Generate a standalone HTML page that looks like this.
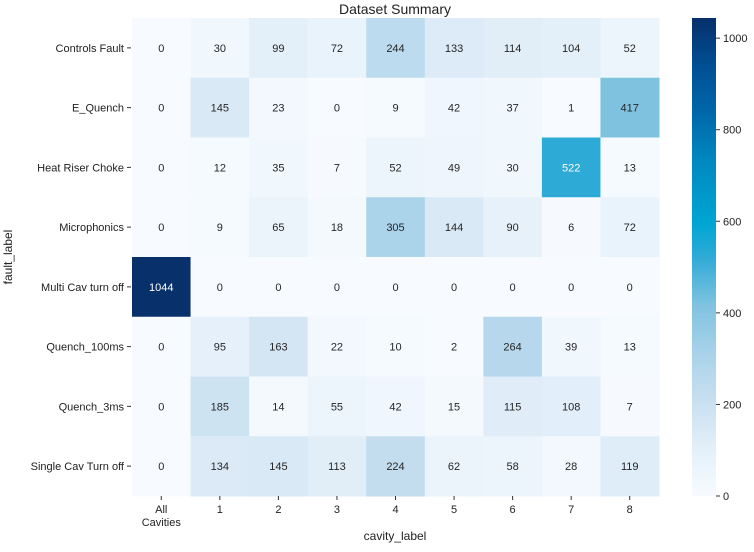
<!DOCTYPE html>
<html><head><meta charset="utf-8"><style>
body{margin:0;background:#fff;font-family:"Liberation Sans","DejaVu Sans",sans-serif;}
</style></head><body>
<svg id="chart" width="754" height="547" xmlns="http://www.w3.org/2000/svg">
<defs><linearGradient id="cbg" x1="0" y1="1" x2="0" y2="0"></linearGradient></defs>
<text x="395" y="14" text-anchor="middle" font-size="14" fill="#222">Dataset Summary</text>
<g id="cells"></g><g id="ylab"></g><g id="xlab"></g><g id="cbar"></g>
<text x="395" y="540" text-anchor="middle" font-size="12" fill="#222">cavity_label</text>
<text transform="translate(12,257) rotate(-90)" text-anchor="middle" font-size="12" fill="#222">fault_label</text>
</svg>
<script>
const rows=["Controls Fault","E_Quench","Heat Riser Choke","Microphonics","Multi Cav turn off","Quench_100ms","Quench_3ms","Single Cav Turn off"];
const cols=[["All","Cavities"],["1"],["2"],["3"],["4"],["5"],["6"],["7"],["8"]];
const values=[
[0,30,99,72,244,133,114,104,52],
[0,145,23,0,9,42,37,1,417],
[0,12,35,7,52,49,30,522,13],
[0,9,65,18,305,144,90,6,72],
[1044,0,0,0,0,0,0,0,0],
[0,95,163,22,10,2,264,39,13],
[0,185,14,55,42,15,115,108,7],
[0,134,145,113,224,62,58,28,119]];
const cbTicks=[0,200,400,600,800,1000];
const vmax=1044;
const stopPos=[0,0.1,0.2,0.3,0.4,0.5,0.57,0.7,0.8,0.9,1];
const stopCol=["#f7fbff","#e3eff9","#c8dff0","#a8d2e9","#7fc2e0","#2eaad6","#00a6d2","#0088c0","#0068aa","#004f93","#08306b"];
function hex(h){return [1,3,5].map(i=>parseInt(h.substr(i,2),16));}
function color(v){let t=Math.max(0,Math.min(1,v/vmax));let i=0;while(i<stopPos.length-2&&t>stopPos[i+1])i++;let f=(t-stopPos[i])/(stopPos[i+1]-stopPos[i]);let a=hex(stopCol[i]),b=hex(stopCol[i+1]);return `rgb(${a.map((x,k)=>Math.round(x+(b[k]-x)*f)).join(",")})`;}
const NS="http://www.w3.org/2000/svg";
const L=132,R=659,T=18,B=496,cw=(R-L)/cols.length,rh=(B-T)/rows.length;
const xS=j=>L+j*cw, yS=i=>T+i*rh;
function mk(tag,attrs,parent,txt){const e=document.createElementNS(NS,tag);for(const k in attrs)e.setAttribute(k,attrs[k]);if(txt!=null)e.textContent=txt;parent.appendChild(e);return e;}
const cells=document.getElementById("cells");
values.forEach((r,i)=>r.forEach((v,j)=>{
 const c=mk("rect",{x:xS(j),y:yS(i),width:cw+0.5,height:rh+0.5,fill:color(v)},cells);
 
 
 const t=mk("text",{x:xS(j)+cw/2,y:yS(i)+rh/2+4,"text-anchor":"middle","font-size":11,fill:v/vmax>0.45?"#fff":"#262626"},cells,v);
 
 
}));
const yl=document.getElementById("ylab");
rows.forEach((n,i)=>{const y=yS(i)+rh/2;
 const t=mk("text",{x:124,y:y+4,"text-anchor":"end","font-size":11,fill:"#222"},yl,n);
 
 
 mk("line",{x1:127,x2:131,y1:y,y2:y,stroke:"#333"},yl);});
const xl=document.getElementById("xlab");
cols.forEach((n,j)=>{const x=xS(j)+cw/2;
 mk("line",{x1:x,x2:x,y1:B,y2:B+4,stroke:"#333"},xl);
 n.forEach((s,k)=>{const t=mk("text",{x:x,y:B+17+k*13,"text-anchor":"middle","font-size":11,fill:"#222"},xl,s);
 
 });});
const g=document.getElementById("cbg");
stopPos.forEach((p,k)=>mk("stop",{offset:p,"stop-color":stopCol[k]},g));
const cb=document.getElementById("cbar");
const bar=mk("rect",{x:692,y:T,width:24,height:B-T,fill:"url(#cbg)"},cb);


cbTicks.forEach(v=>{const y=B-(v/vmax)*(B-T);
 mk("line",{x1:716,x2:720,y1:y,y2:y,stroke:"#333"},cb);
 const t=mk("text",{x:723,y:y+4,"font-size":11,fill:"#222"},cb,v);
 
 });
</script>
</body></html>
